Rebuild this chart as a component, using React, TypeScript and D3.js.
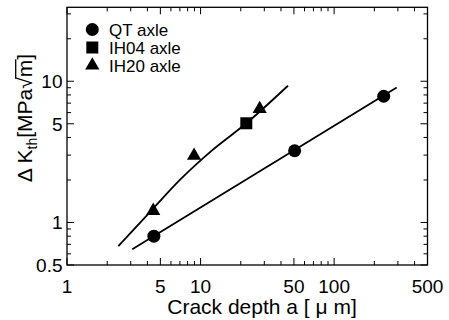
import React, { useEffect, useRef, useState } from 'react';
import * as d3 from 'd3';

const qtDepth = [4.47, 50.6, 235];
const qtDK = [0.8, 3.22, 7.83];
const ih04Depth = [22.0];
const ih04DK = [5.04];
const ih20Depth = [4.42, 8.94, 27.7];
const ih20DK = [1.21, 2.97, 6.37];
const qtFitDepth = [3.08, 294];
const qtFitDK = [0.646, 9.02];
const ih20FitDepth = [2.42, 4.4, 7.0, 12, 22, 45.1];
const ih20FitDK = [0.68, 1.25, 2.0, 3.2, 5.04, 9.3];
const xTickLabels = [1, 5, 10, 50, 100, 500];
const yTickLabels = [0.5, 1, 5, 10];
const legendLabels = ['QT axle', 'IH04 axle', 'IH20 axle'];

const W = 449;
const H = 320;
const L = 67;
const R = 427.5;
const T = 7.3;
const B = 265;
const FONT = '"Liberation Sans", Arial, Helvetica, sans-serif';

export default function App() {
  const titleRef = useRef<SVGTextElement>(null);
  const [bar, setBar] = useState<[number, number] | null>(null);

  useEffect(() => {
    const el = titleRef.current;
    if (!el) return;
    try {
      const n = el.getNumberOfChars();
      // radical is the 10th char (index 9), m index 10
      const a = el.getEndPositionOfChar(9).x - 1.5;
      const b = el.getEndPositionOfChar(Math.min(10, n - 1)).x + 0.5;
      setBar([a, b]);
    } catch (e) {
      /* ignore */
    }
  }, []);

  const x = d3.scaleLog().domain([1, 500]).range([L, R]);
  const y = d3.scaleLog().domain([0.5, 33.4]).range([B, T]);
  const xMinor = x.ticks();
  const yMinor = y.ticks();
  const line = d3
    .line<[number, number]>()
    .x((d) => x(d[0]))
    .y((d) => y(d[1]));
  const curve = d3
    .line<[number, number]>()
    .x((d) => x(d[0]))
    .y((d) => y(d[1]))
    .curve(d3.curveMonotoneX);
  const qtFit = qtFitDepth.map((v, i) => [v, qtFitDK[i]] as [number, number]);
  const ih20Fit = ih20FitDepth.map((v, i) => [v, ih20FitDK[i]] as [number, number]);
  const circle = d3.symbol(d3.symbolCircle, 133)();
  const square = d3.symbol(d3.symbolSquare, 144)();
  const tri = d3.symbol(d3.symbolTriangle, 88)();
  const symbols = [circle, square, tri];
  const isMajorX = (v: number) => xTickLabels.some((t) => Math.abs(t - v) < 1e-9);
  const isMajorY = (v: number) => yTickLabels.some((t) => Math.abs(t - v) < 1e-9);

  return (
    <svg
      width={W}
      height={H}
      style={{ position: 'absolute', left: 0, top: 0, background: '#fff' }}
      fontFamily={FONT}
    >
      <rect x={0} y={0} width={W} height={H} fill="#fff" />
      {/* ticks */}
      {xMinor.map((v, i) => {
        const len = isMajorX(v) ? 7 : 4;
        return (
          <g key={'xt' + i} stroke="#000" strokeWidth={1}>
            <line x1={x(v)} x2={x(v)} y1={B} y2={B - len} />
            <line x1={x(v)} x2={x(v)} y1={T} y2={T + len} />
          </g>
        );
      })}
      {yMinor.map((v, i) => {
        const len = isMajorY(v) ? 7 : 4;
        return (
          <g key={'yt' + i} stroke="#000" strokeWidth={1}>
            <line x1={L} x2={L + len} y1={y(v)} y2={y(v)} />
            <line x1={R} x2={R - len} y1={y(v)} y2={y(v)} />
          </g>
        );
      })}
      <rect x={L} y={T} width={R - L} height={B - T} fill="none" stroke="#000" strokeWidth={1.3} />
      {/* tick labels */}
      {xTickLabels.map((v) => (
        <text key={'xl' + v} x={x(v)} y={292.5} textAnchor="middle" fontSize={19} fill="#000">
          {v}
        </text>
      ))}
      {yTickLabels.map((v) => (
        <text key={'yl' + v} x={62.5} y={y(v)} dy="0.36em" textAnchor="end" fontSize={19} fill="#000">
          {v}
        </text>
      ))}
      {/* axis titles */}
      <text x={262} y={314} textAnchor="middle" fontSize={21} fill="#000">
        Crack depth a [ μ m]
      </text>
      <g transform="translate(32,118) rotate(-90)">
        <text ref={titleRef} x={0} y={0} textAnchor="middle" fontSize={21} fill="#000">
          Δ K
          <tspan fontSize={14} dy={5}>
            th
          </tspan>
          <tspan dy={-5}>[MPa√</tspan>
          <tspan>m</tspan>
          <tspan>]</tspan>
        </text>
        {bar && <line x1={bar[0]} x2={bar[1]} y1={-16.3} y2={-16.3} stroke="#000" strokeWidth={1.3} />}
      </g>
      {/* fit lines */}
      <path d={line(qtFit) || ''} fill="none" stroke="#000" strokeWidth={1.8} />
      <path d={curve(ih20Fit) || ''} fill="none" stroke="#000" strokeWidth={1.8} />
      {/* markers */}
      {qtDepth.map((v, i) => (
        <path key={'qt' + i} d={circle || ''} transform={`translate(${x(v)},${y(qtDK[i])})`} fill="#000" />
      ))}
      {ih04Depth.map((v, i) => (
        <path key={'ih04' + i} d={square || ''} transform={`translate(${x(v)},${y(ih04DK[i])})`} fill="#000" />
      ))}
      {ih20Depth.map((v, i) => (
        <path key={'ih20' + i} d={tri || ''} transform={`translate(${x(v)},${y(ih20DK[i])})`} fill="#000" />
      ))}
      {/* legend */}
      {legendLabels.map((lab, i) => (
        <g key={'lg' + i}>
          <path d={symbols[i] || ''} transform={`translate(92.3,${29.5 + i * 18})`} fill="#000" />
          <text x={109} y={35.5 + i * 18.3} fontSize={17} fill="#000">
            {lab}
          </text>
        </g>
      ))}
    </svg>
  );
}
